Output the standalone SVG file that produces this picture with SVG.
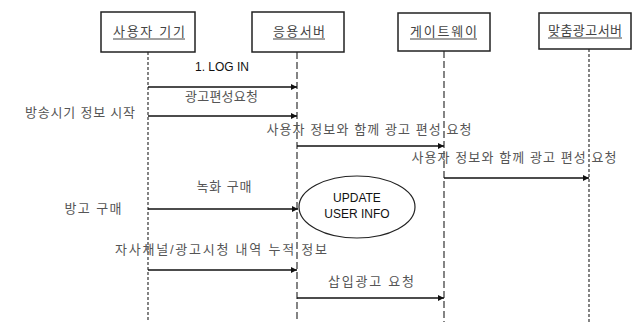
<svg xmlns="http://www.w3.org/2000/svg" width="641" height="322" viewBox="0 0 641 322">
<style>
.box{fill:#fff;stroke:#222;stroke-width:1.5}
.bt{font-family:"Liberation Sans","Noto Sans CJK KR",sans-serif;font-size:13px;fill:#444;text-anchor:middle}
.ul{stroke:#444;stroke-width:1}
.life{stroke:#333;stroke-width:1.2;fill:none}
.d1{stroke-dasharray:3,2}
.d2{stroke-dasharray:7,3}
.msg{stroke:#111;stroke-width:1.5;fill:none;marker-end:url(#ah)}
.t{font-family:"Liberation Sans","Noto Sans CJK KR",sans-serif;font-size:13px;fill:#555}
.c{text-anchor:middle}
.en{font-family:"Liberation Sans",Arial,sans-serif;font-size:12px;fill:#111}
</style>
<defs>
<marker id="ah" viewBox="0 0 10 10" refX="10" refY="5" markerWidth="6" markerHeight="6" orient="auto" markerUnits="userSpaceOnUse">
<path d="M0,0 L10,5 L0,10 z" fill="#111"/>
</marker>
</defs>
<rect width="641" height="322" fill="#fff"/>
<g id="lifelines">
<line class="life d1" x1="148" y1="52" x2="148" y2="322"/>
<line class="life d2" x1="297" y1="52" x2="297" y2="322"/>
<line class="life d2" x1="444" y1="51" x2="444" y2="322"/>
<line class="life d1" x1="589" y1="49" x2="589" y2="322"/>
</g>
<g id="node-device"><rect class="box" x="101" y="12" width="94" height="40"/><text class="bt" x="149" y="36" textLength="72" lengthAdjust="spacing">사용자 기기</text><line class="ul" x1="113" y1="39" x2="185" y2="39"/></g>
<g id="node-appserver"><rect class="box" x="252" y="12" width="92" height="40"/><text class="bt" x="299" y="36" textLength="52" lengthAdjust="spacing">응용서버</text><line class="ul" x1="273" y1="39" x2="325" y2="39"/></g>
<g id="node-gateway"><rect class="box" x="398" y="13" width="92" height="38"/><text class="bt" x="443.5" y="36" textLength="67" lengthAdjust="spacing">게이트웨이</text><line class="ul" x1="410" y1="39" x2="477" y2="39"/></g>
<g id="node-adserver"><rect class="box" x="539" y="13" width="92" height="36"/><text class="bt" x="585" y="35" textLength="74" lengthAdjust="spacing">맞춤광고서버</text><line class="ul" x1="548" y1="38" x2="622" y2="38"/></g>
<g id="node-update">
<ellipse cx="357" cy="207" rx="58" ry="31" fill="#fff" stroke="#222" stroke-width="1.2"/>
<text class="en c" x="357" y="202">UPDATE</text>
<text class="en c" x="357" y="218">USER INFO</text>
</g>
<g id="connectors">
<line class="msg" x1="148" y1="87" x2="297" y2="87"/>
<line class="msg" x1="148" y1="116" x2="297" y2="116"/>
<line class="msg" x1="297" y1="146" x2="444" y2="146"/>
<line class="msg" x1="444" y1="178" x2="589" y2="178"/>
<line class="msg" x1="148" y1="209" x2="298" y2="209"/>
<line class="msg" x1="148" y1="270" x2="297" y2="270"/>
<line class="msg" x1="297" y1="298" x2="444" y2="298"/>
</g>
<g id="labels">
<text class="en c" x="222" y="71">1. LOG IN</text>
<text class="t c" x="221.5" y="101" textLength="73" lengthAdjust="spacing">광고편성요청</text>
<text class="t c" x="80" y="117" textLength="110" lengthAdjust="spacing">방송시기 정보 시작</text>
<text class="t c" x="369" y="134" textLength="205" lengthAdjust="spacing">사용자 정보와 함께 광고 편성 요청</text>
<text class="t c" x="514" y="162" textLength="205" lengthAdjust="spacing">사용자 정보와 함께 광고 편성 요청</text>
<text class="t c" x="224" y="191" textLength="55" lengthAdjust="spacing">녹화 구매</text>
<text class="t c" x="93" y="213" textLength="57" lengthAdjust="spacing">방고 구매</text>
<text class="t c" x="221" y="254" textLength="212" lengthAdjust="spacing">자사채널/광고시청 내역 누적 정보</text>
<text class="t c" x="371" y="286" textLength="86" lengthAdjust="spacing">삽입광고 요청</text>
</g>
</svg>
